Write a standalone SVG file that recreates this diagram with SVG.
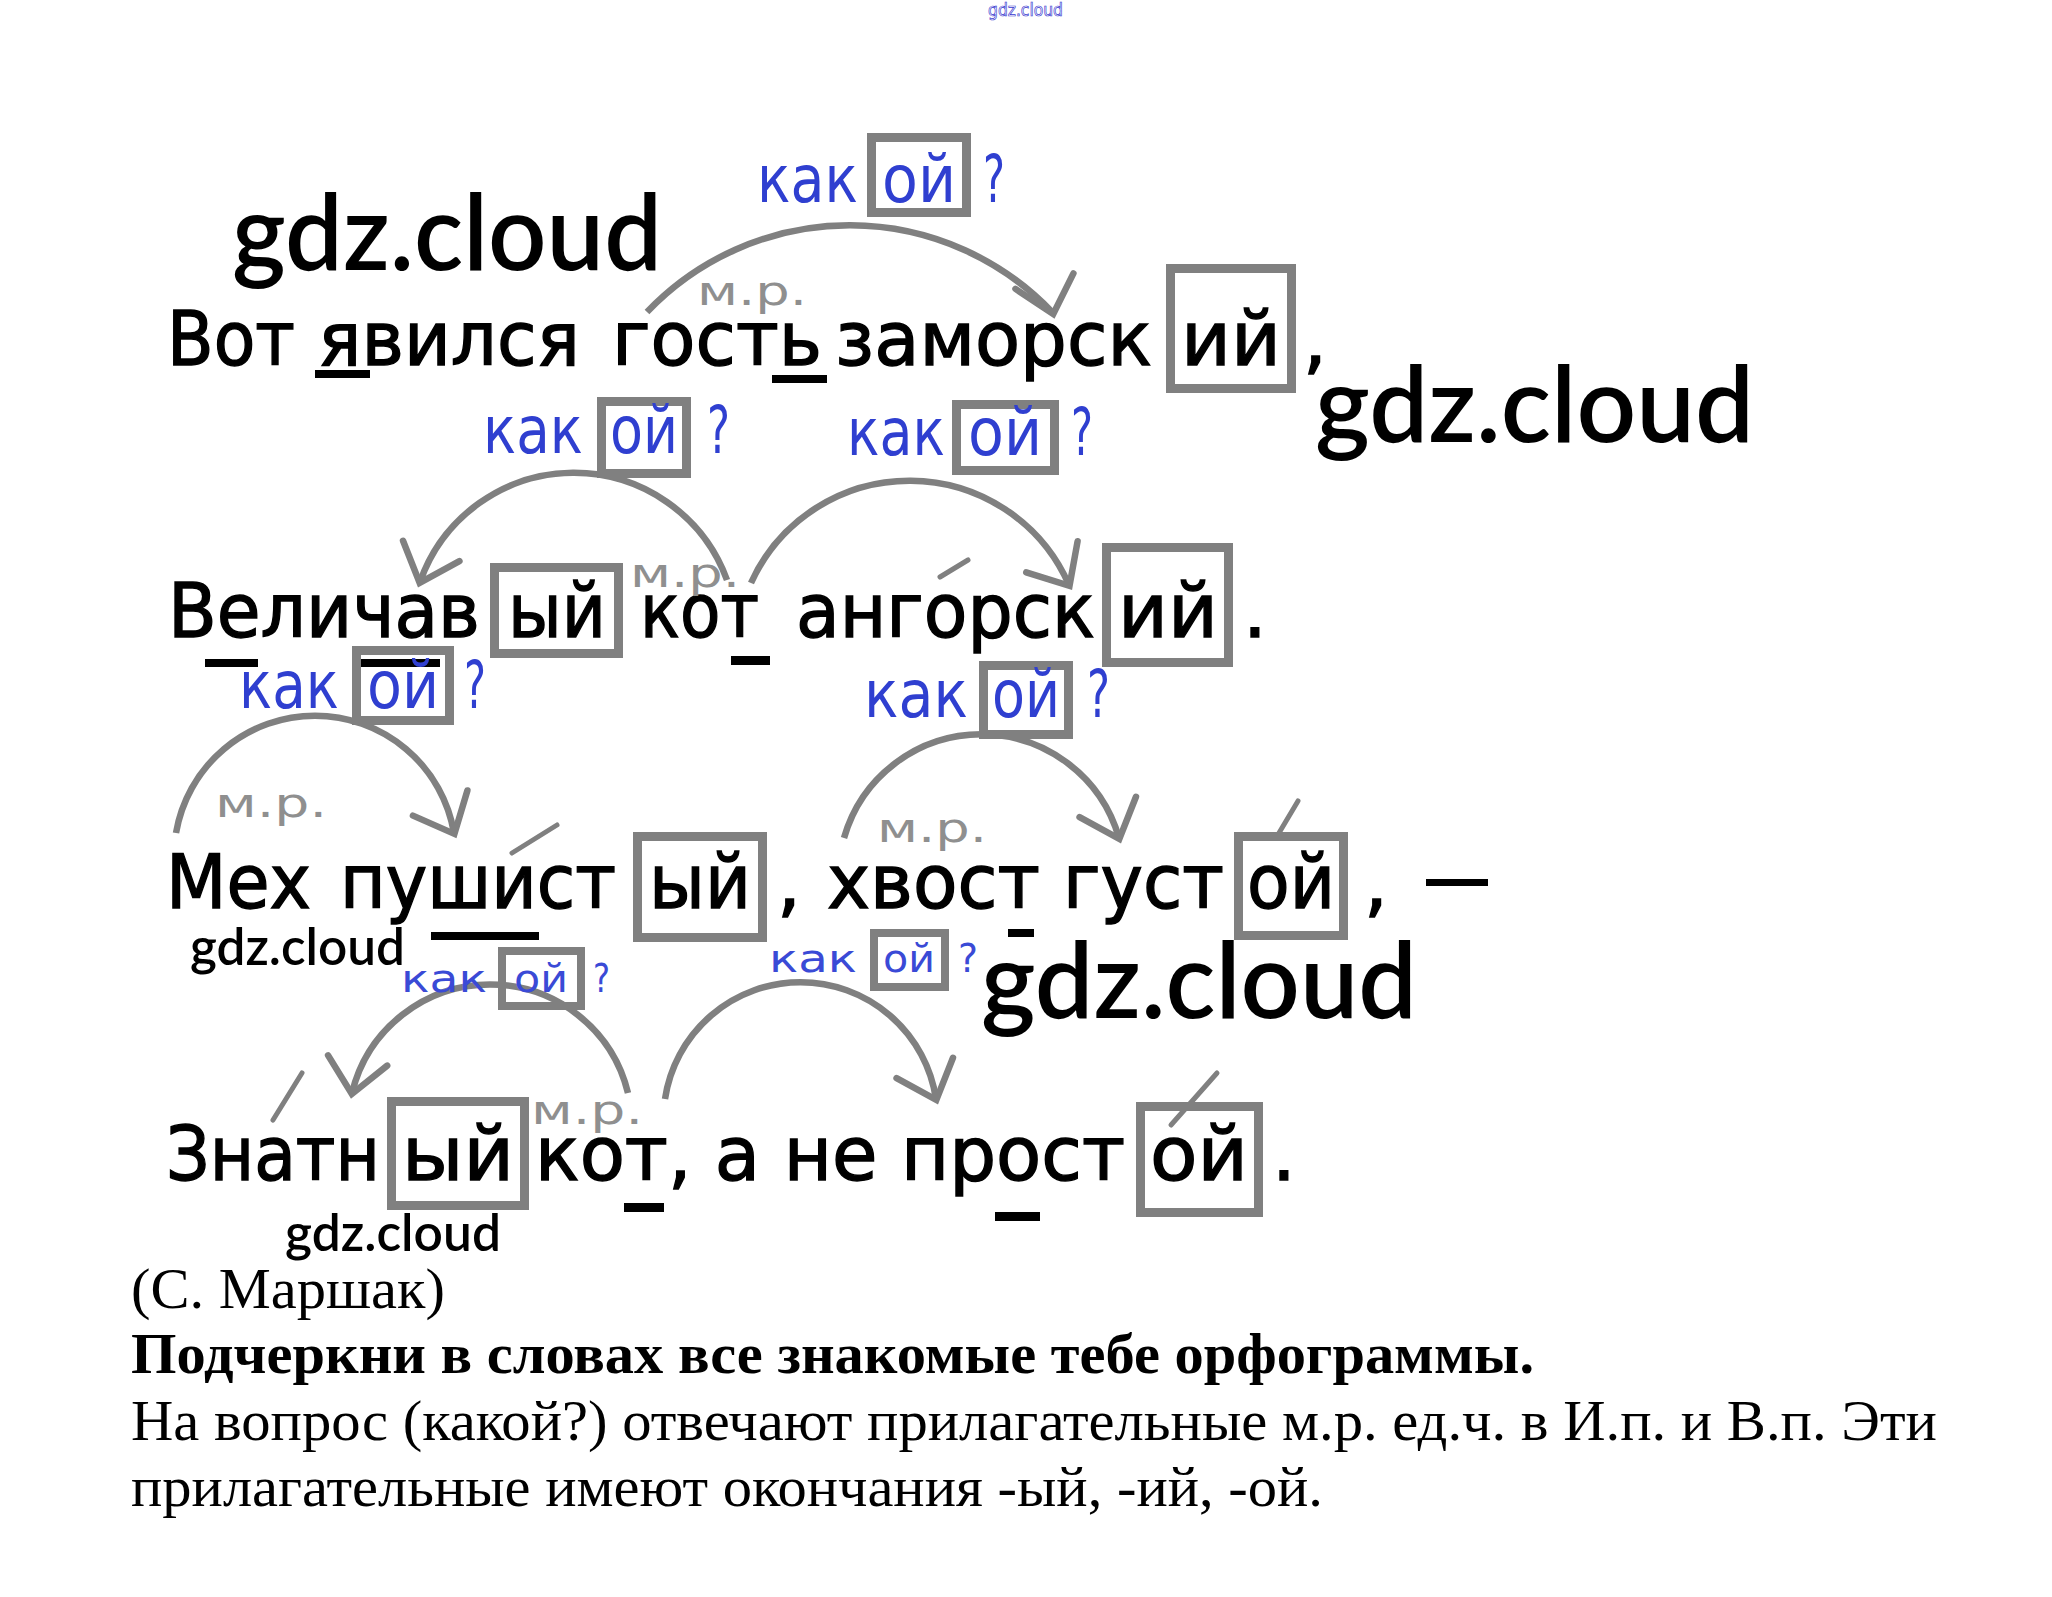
<svg xmlns="http://www.w3.org/2000/svg" width="2052" height="1597" viewBox="0 0 2052 1597">
<style>
.w{font-family:"DejaVu Sans",Verdana,sans-serif;font-size:75px;fill:#000;stroke:#000;stroke-width:1.4}
.lb{font-family:"DejaVu Sans",Verdana,sans-serif;font-size:65px;fill:#2f3fd0}
.lbs{font-family:"DejaVu Sans",Verdana,sans-serif;font-size:39px;fill:#3a4ad6}
.mr{font-family:"DejaVu Sans",Verdana,sans-serif;font-size:40px;fill:#8f8f8f}
.box{fill:none;stroke:#808080;stroke-width:9}
.boxs{fill:none;stroke:#808080;stroke-width:8}
.ul{fill:#000}
.arc{fill:none;stroke:#808080;stroke-width:6.5;marker-end:url(#arr)}
.st{stroke:#808080;stroke-width:5;stroke-linecap:round}
.wm{font-family:Lato,"Open Sans",sans-serif;font-weight:600;fill:#000}
.tx{font-family:"Liberation Serif","Times New Roman",serif;font-size:58px;fill:#000}
</style>
<defs>
<marker id="arr" markerUnits="userSpaceOnUse" markerWidth="90" markerHeight="90" viewBox="-60 -45 90 90" refX="0" refY="0" orient="auto" overflow="visible">
<path d="M -34 -30 L 0 0 L -34 30" fill="none" stroke="#808080" stroke-width="6.5" stroke-linecap="round"/>
</marker>
</defs>
<rect width="2052" height="1597" fill="#fff"/>

<text x="988" y="16" font-family="DejaVu Sans,sans-serif" font-size="17" fill="none" stroke="#3a3ad0" stroke-width="0.7" textLength="75" lengthAdjust="spacingAndGlyphs">gdz.cloud</text>

<g id="connectors">
<path class="arc" d="M 647 312 A 280 280 0 0 1 1053 313 l 0.26 0.97"/>
<path class="arc" d="M 727 580 A 163 163 0 0 0 420 582 l -0.34 0.94"/>
<path class="arc" d="M 751 583 A 174 174 0 0 1 1069 585 l 0.52 0.86"/>
<path class="arc" d="M 176 833 A 141 141 0 0 1 454 833 l 0.42 0.91"/>
<path class="arc" d="M 844 838 A 143 143 0 0 1 1119 838 l 0.34 0.94"/>
<path class="arc" d="M 628 1093 A 142 142 0 0 0 352 1093 l -0.17 0.98"/>
<path class="arc" d="M 665 1099 A 137 137 0 0 1 936 1099 l 0.34 0.94"/>
</g>

<g id="stress">
<line class="st" x1="940" y1="577" x2="968" y2="560"/>
<line class="st" x1="512" y1="853" x2="557" y2="825"/>
<line class="st" x1="1276" y1="838" x2="1298" y2="801"/>
<line class="st" x1="273" y1="1120" x2="302" y2="1073"/>
<line class="st" x1="1171" y1="1125" x2="1217" y2="1073"/>
</g>

<g id="line1">
<text class="w" x="167" y="365" textLength="128" lengthAdjust="spacingAndGlyphs">Вот</text>
<text class="w" x="318" y="365" textLength="262" lengthAdjust="spacingAndGlyphs">явился</text>
<text class="w" x="612" y="365" textLength="210" lengthAdjust="spacingAndGlyphs">гость</text>
<text class="w" x="835" y="365" textLength="317" lengthAdjust="spacingAndGlyphs">заморск</text>
<rect class="box" x="1170.5" y="268.5" width="121" height="120"/>
<text class="w" x="1231" y="365" text-anchor="middle" textLength="100" lengthAdjust="spacingAndGlyphs">ий</text>
<text class="w" x="1303" y="365">,</text>
<rect class="ul" x="315" y="370" width="55" height="8"/>
<rect class="ul" x="772" y="375" width="55" height="8"/>
</g>

<g id="line2">
<text class="w" x="168" y="637" textLength="312" lengthAdjust="spacingAndGlyphs">Величав</text>
<rect class="box" x="494.5" y="567.5" width="124" height="86"/>
<text class="w" x="557" y="637" text-anchor="middle" textLength="98" lengthAdjust="spacingAndGlyphs">ый</text>
<text class="w" x="640" y="637" textLength="119" lengthAdjust="spacingAndGlyphs">кот</text>
<text class="w" x="796" y="637" textLength="299" lengthAdjust="spacingAndGlyphs">ангорск</text>
<rect class="box" x="1106.5" y="547.5" width="122" height="115"/>
<text class="w" x="1168" y="637" text-anchor="middle" textLength="100" lengthAdjust="spacingAndGlyphs">ий</text>
<text class="w" x="1243" y="637">.</text>
<rect class="ul" x="205" y="659" width="53" height="8"/>
<rect class="ul" x="360" y="659" width="80" height="8"/>
<rect class="ul" x="731" y="656" width="39" height="9"/>
</g>

<g id="line3">
<text class="w" x="166" y="908" textLength="145" lengthAdjust="spacingAndGlyphs">Мех</text>
<text class="w" x="340" y="908" textLength="276" lengthAdjust="spacingAndGlyphs">пушист</text>
<rect class="box" x="637.5" y="836.5" width="125" height="101"/>
<text class="w" x="700" y="908" text-anchor="middle" textLength="102" lengthAdjust="spacingAndGlyphs">ый</text>
<text class="w" x="777" y="908">,</text>
<text class="w" x="827" y="908" textLength="213" lengthAdjust="spacingAndGlyphs">хвост</text>
<text class="w" x="1063" y="908" textLength="161" lengthAdjust="spacingAndGlyphs">густ</text>
<rect class="box" x="1238.5" y="836.5" width="105" height="99"/>
<text class="w" x="1291" y="908" text-anchor="middle" textLength="88" lengthAdjust="spacingAndGlyphs">ой</text>
<text class="w" x="1364" y="908">,</text>
<rect class="ul" x="1426" y="879" width="62" height="7"/>
<rect class="ul" x="431" y="932" width="108" height="8"/>
<rect class="ul" x="1008" y="929" width="26" height="8"/>
</g>

<g id="line4">
<text class="w" x="166" y="1180" textLength="214" lengthAdjust="spacingAndGlyphs">Знатн</text>
<rect class="box" x="391.5" y="1101.5" width="133" height="104"/>
<text class="w" x="458" y="1180" text-anchor="middle" textLength="112" lengthAdjust="spacingAndGlyphs">ый</text>
<text class="w" x="535" y="1180" textLength="590" lengthAdjust="spacingAndGlyphs">кот, а не прост</text>
<rect class="box" x="1140.5" y="1106.5" width="118" height="106"/>
<text class="w" x="1199" y="1180" text-anchor="middle" textLength="98" lengthAdjust="spacingAndGlyphs">ой</text>
<text class="w" x="1272" y="1180">.</text>
<rect class="ul" x="624" y="1203" width="40" height="9"/>
<rect class="ul" x="995" y="1212" width="45" height="9"/>
</g>

<g id="labels">
<text class="lb" x="757" y="202" textLength="101" lengthAdjust="spacingAndGlyphs">как</text>
<rect class="box" x="871.5" y="137.5" width="95" height="75"/>
<text class="lb" x="919" y="202" text-anchor="middle" textLength="74" lengthAdjust="spacingAndGlyphs">ой</text>
<text class="lb" x="983" y="202" textLength="22" lengthAdjust="spacingAndGlyphs">?</text>

<text class="lb" x="483" y="453" textLength="100" lengthAdjust="spacingAndGlyphs">как</text>
<rect class="box" x="601.5" y="401.5" width="85" height="72"/>
<text class="lb" x="644" y="453" text-anchor="middle" textLength="68" lengthAdjust="spacingAndGlyphs">ой</text>
<text class="lb" x="707" y="453" textLength="23" lengthAdjust="spacingAndGlyphs">?</text>

<text class="lb" x="847" y="455" textLength="98" lengthAdjust="spacingAndGlyphs">как</text>
<rect class="box" x="956.5" y="404.5" width="98" height="66"/>
<text class="lb" x="1005" y="455" text-anchor="middle" textLength="74" lengthAdjust="spacingAndGlyphs">ой</text>
<text class="lb" x="1071" y="455" textLength="22" lengthAdjust="spacingAndGlyphs">?</text>

<text class="lb" x="239" y="708" textLength="100" lengthAdjust="spacingAndGlyphs">как</text>
<rect class="box" x="356.5" y="650.5" width="93" height="70"/>
<text class="lb" x="403" y="708" text-anchor="middle" textLength="72" lengthAdjust="spacingAndGlyphs">ой</text>
<text class="lb" x="464" y="708" textLength="22" lengthAdjust="spacingAndGlyphs">?</text>

<text class="lb" x="864" y="717" textLength="104" lengthAdjust="spacingAndGlyphs">как</text>
<rect class="box" x="983.5" y="665.5" width="85" height="69"/>
<text class="lb" x="1026" y="717" text-anchor="middle" textLength="68" lengthAdjust="spacingAndGlyphs">ой</text>
<text class="lb" x="1087" y="717" textLength="23" lengthAdjust="spacingAndGlyphs">?</text>

<text class="lbs" x="401" y="992" textLength="86" lengthAdjust="spacingAndGlyphs">как</text>
<rect class="boxs" x="502" y="951" width="79" height="55"/>
<text class="lbs" x="541" y="992" text-anchor="middle" textLength="54" lengthAdjust="spacingAndGlyphs">ой</text>
<text class="lbs" x="593" y="992" textLength="17" lengthAdjust="spacingAndGlyphs">?</text>

<text class="lbs" x="769" y="972" font-size="43" textLength="88" lengthAdjust="spacingAndGlyphs">как</text>
<rect class="boxs" x="874" y="933" width="71" height="54"/>
<text class="lbs" x="909" y="972" font-size="43" text-anchor="middle" textLength="52" lengthAdjust="spacingAndGlyphs">ой</text>
<text class="lbs" x="958" y="972" font-size="43" textLength="20" lengthAdjust="spacingAndGlyphs">?</text>

<text class="mr" x="697" y="305" textLength="110" lengthAdjust="spacingAndGlyphs">м.р.</text>
<text class="mr" x="630" y="587" textLength="110" lengthAdjust="spacingAndGlyphs">м.р.</text>
<text class="mr" x="215" y="817" textLength="112" lengthAdjust="spacingAndGlyphs">м.р.</text>
<text class="mr" x="877" y="842" textLength="110" lengthAdjust="spacingAndGlyphs">м.р.</text>
<text class="mr" x="531" y="1124" textLength="112" lengthAdjust="spacingAndGlyphs">м.р.</text>
</g>

<g id="watermarks">
<text class="wm" x="232" y="270" font-size="105" textLength="430" lengthAdjust="spacingAndGlyphs">gdz.cloud</text>
<text class="wm" x="1315" y="442" font-size="105" textLength="439" lengthAdjust="spacingAndGlyphs">gdz.cloud</text>
<text class="wm" x="981" y="1018" font-size="105" textLength="436" lengthAdjust="spacingAndGlyphs">gdz.cloud</text>
<text class="wm" x="190" y="965" font-size="51" textLength="215" lengthAdjust="spacingAndGlyphs">gdz.cloud</text>
<text class="wm" x="285" y="1251" font-size="51" textLength="216" lengthAdjust="spacingAndGlyphs">gdz.cloud</text>
</g>

<g id="notes">
<text class="tx" x="131" y="1308" textLength="314" lengthAdjust="spacingAndGlyphs">(С. Маршак)</text>
<text class="tx" x="131" y="1373" font-weight="bold" textLength="1403" lengthAdjust="spacingAndGlyphs">Подчеркни в словах все знакомые тебе орфограммы.</text>
<text class="tx" x="131" y="1440" textLength="1806" lengthAdjust="spacingAndGlyphs">На вопрос (какой?) отвечают прилагательные м.р. ед.ч. в И.п. и В.п. Эти</text>
<text class="tx" x="131" y="1506" textLength="1192" lengthAdjust="spacingAndGlyphs">прилагательные имеют окончания -ый, -ий, -ой.</text>
</g>
</svg>
